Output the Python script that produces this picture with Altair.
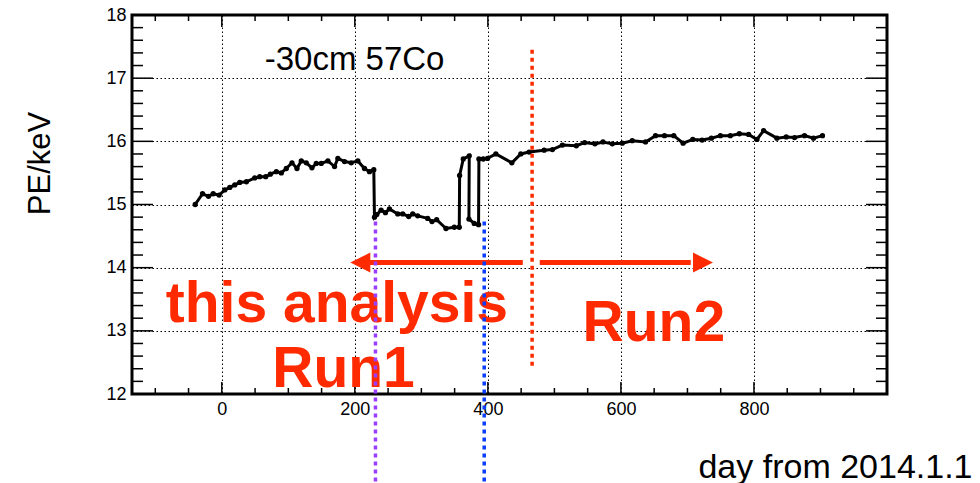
import altair as alt
import pandas as pd

# ---------------- data ----------------
days = [-40, -29, -20, -13, -4, 4.5, 12, 19.5, 27, 37, 49.5, 57, 66, 73, 82, 89.5,
        97, 105.5, 113, 119.5, 127, 135.5, 142, 149.5, 159.5, 169.5, 174.5, 184.5,
        194.5, 204.5, 214.5, 222, 228.5, 229.5, 233, 239.5, 246, 252, 264.5, 272,
        281, 287, 294.5, 309.5, 316, 323, 337, 349.5, 357, 357.5, 363, 372, 371.5,
        379.5, 386, 386.5, 393, 399.5, 412, 436, 449.5, 462, 484.5, 497, 512, 533,
        545.5, 561, 573, 587, 602, 617, 637, 652, 665.5, 679.5, 693.5, 708, 722,
        736, 749.5, 764.5, 778, 792, 804.5, 814.5, 834.5, 848.5, 861, 876, 889.5, 903]
pe = [15.00, 15.17, 15.13, 15.17, 15.15, 15.23, 15.27, 15.31, 15.35, 15.36, 15.42,
      15.44, 15.44, 15.48, 15.52, 15.50, 15.57, 15.66, 15.57, 15.69, 15.66, 15.58,
      15.65, 15.65, 15.69, 15.60, 15.73, 15.68, 15.66, 15.69, 15.57, 15.52, 15.55,
      14.80, 14.84, 14.91, 14.87, 14.93, 14.85, 14.85, 14.81, 14.85, 14.82, 14.78,
      14.73, 14.76, 14.62, 14.64, 14.64, 15.46, 15.72, 15.77, 14.77, 14.70, 14.68,
      15.72, 15.72, 15.73, 15.80, 15.66, 15.80, 15.83, 15.86, 15.87, 15.94, 15.93,
      15.98, 15.96, 15.99, 15.96, 15.97, 16.01, 15.99, 16.09, 16.09, 16.09, 15.97,
      16.03, 16.02, 16.05, 16.09, 16.09, 16.12, 16.11, 16.03, 16.17, 16.05, 16.07,
      16.06, 16.09, 16.05, 16.09]

x_major = [0, 200, 400, 600, 800]
x_minor = [-100, -50, 50, 100, 150, 250, 300, 350, 450, 500, 550, 650, 700, 750,
           850, 900, 950]
y_major = [12, 13, 14, 15, 16, 17, 18]
y_minor = [12.2, 12.4, 12.6, 12.8, 13.2, 13.4, 13.6, 13.8, 14.2, 14.4, 14.6, 14.8,
           15.2, 15.4, 15.6, 15.8, 16.2, 16.4, 16.6, 16.8, 17.2, 17.4, 17.6, 17.8]

# vertical dotted markers (day, top, bottom)
mark_names = ["run1_start", "run1_end", "run_split"]
mark_days = [231, 394.5, 466.5]
mark_top = [14.73, 14.73, 17.45]
mark_bottom = [10.6, 10.6, 12.41]

# arrows (shaft start/end, head centre)
arrow_y = 14.08
arrow_from = [215, 478]
arrow_to = [452.5, 705]
head_day = [208.2, 723.4]

label_text = ["this analysis", "Run1", "Run2"]
label_day = [173, 183, 649.5]
label_pe = [13.14, 12.11, 12.84]

source_text = ["-30cm 57Co"]
source_day = [64.5]
source_pe = [17.13]

XMIN, XMAX = -135, 1000
YMIN, YMAX = 12, 18
W, H = 755, 379
FONT = "Liberation Sans"
RED = "#ff2a00"

xs = alt.Scale(domain=[XMIN, XMAX], nice=False, zero=False)
ys = alt.Scale(domain=[YMIN, YMAX], nice=False, zero=False)

px_per_day = W / (XMAX - XMIN)
px_per_pe = H / (YMAX - YMIN)

df = pd.DataFrame({"day": days, "pe": pe, "order": range(len(days))})

xaxis = alt.Axis(values=x_major, format="d", grid=True, gridDash=[1.5, 2.5],
                 gridColor="black", gridWidth=1, gridOpacity=1, ticks=False, tickSize=0,
                 domain=False, labelFont=FONT, labelFontSize=18, labelColor="black",
                 labelPadding=6, title="day from 2014.1.1", titleFont=FONT,
                 titleFontSize=34, titleFontWeight="normal", titleColor="black",
                 titleAlign="right", titleAnchor="end", titleX=840, titleY=83,
                 titleBaseline="alphabetic")
yaxis = alt.Axis(values=y_major, format="d", grid=True, gridDash=[1.5, 2.5],
                 gridColor="black", gridWidth=1, gridOpacity=1, ticks=False, tickSize=0,
                 domain=False, labelFont=FONT, labelFontSize=18, labelColor="black",
                 labelPadding=6, title="PE/keV", titleFont=FONT, titleFontSize=31,
                 titleFontWeight="normal", titleColor="black", titleAngle=270,
                 titleAlign="center", titleBaseline="middle", titleX=-92, titleY=148)

line = alt.Chart(df).mark_line(color="black", strokeWidth=3).encode(
    x=alt.X("day:Q", scale=xs, axis=xaxis),
    y=alt.Y("pe:Q", scale=ys, axis=yaxis),
    order="order:Q",
)
pts = alt.Chart(df).mark_circle(color="black", size=28, opacity=1).encode(
    x=alt.X("day:Q", scale=xs), y=alt.Y("pe:Q", scale=ys))

# frame ticks (inward, on all four sides)
xt_len_major = 12 / px_per_pe
xt_len_minor = 6 / px_per_pe
yt_len_major = 21 / px_per_day
yt_len_minor = 11 / px_per_day
rows = []
for v in x_major:
    rows.append({"x": v, "x2": v, "y": YMIN, "y2": YMIN + xt_len_major})
    rows.append({"x": v, "x2": v, "y": YMAX, "y2": YMAX - xt_len_major})
for v in x_minor:
    rows.append({"x": v, "x2": v, "y": YMIN, "y2": YMIN + xt_len_minor})
    rows.append({"x": v, "x2": v, "y": YMAX, "y2": YMAX - xt_len_minor})
for v in y_major:
    rows.append({"x": XMIN, "x2": XMIN + yt_len_major, "y": v, "y2": v})
    rows.append({"x": XMAX, "x2": XMAX - yt_len_major, "y": v, "y2": v})
for v in y_minor:
    rows.append({"x": XMIN, "x2": XMIN + yt_len_minor, "y": v, "y2": v})
    rows.append({"x": XMAX, "x2": XMAX - yt_len_minor, "y": v, "y2": v})
ticks = alt.Chart(pd.DataFrame(rows)).mark_rule(color="black", strokeWidth=1.5).encode(
    x=alt.X("x:Q", scale=xs), x2="x2:Q", y=alt.Y("y:Q", scale=ys), y2="y2:Q")

vdf = pd.DataFrame({"name": mark_names, "day": mark_days, "top": mark_top,
                    "bottom": mark_bottom})
vlines = alt.Chart(vdf).mark_rule(strokeWidth=3.5, strokeDash=[4, 4], strokeCap="butt",
                                  clip=False).encode(
    x=alt.X("day:Q", scale=xs), y=alt.Y("top:Q", scale=ys), y2="bottom:Q",
    color=alt.Color("name:N", scale=alt.Scale(domain=mark_names,
                                              range=["#9a3dff", "#0a3cff", RED]),
                    legend=None))

adf = pd.DataFrame({"a": arrow_from, "b": arrow_to, "y": [arrow_y] * 2})
shafts = alt.Chart(adf).mark_rule(color=RED, strokeWidth=5).encode(
    x=alt.X("a:Q", scale=xs), x2="b:Q", y=alt.Y("y:Q", scale=ys))
hdf = pd.DataFrame({"day": head_day, "y": [arrow_y] * 2,
                    "shape": ["M 1 -1 L -1 0 L 1 1 Z", "M -1 -1 L 1 0 L -1 1 Z"]})
heads = alt.Chart(hdf).mark_point(filled=True, color=RED, size=400, opacity=1,
                                  strokeWidth=0).encode(
    x=alt.X("day:Q", scale=xs), y=alt.Y("y:Q", scale=ys),
    shape=alt.Shape("shape:N", scale=None))

ldf = pd.DataFrame({"t": label_text, "day": label_day, "pe": label_pe})
labels = alt.Chart(ldf).mark_text(font=FONT, fontSize=57, fontWeight="bold", color=RED,
                                  align="center", baseline="alphabetic").encode(
    x=alt.X("day:Q", scale=xs), y=alt.Y("pe:Q", scale=ys), text="t:N")

sdf = pd.DataFrame({"t": source_text, "day": source_day, "pe": source_pe})
src = alt.Chart(sdf).mark_text(font=FONT, fontSize=33, color="black", align="left",
                               baseline="alphabetic").encode(
    x=alt.X("day:Q", scale=xs), y=alt.Y("pe:Q", scale=ys), text="t:N")

chart = alt.layer(line, pts, ticks, shafts, heads, labels, src, vlines).properties(
    width=W, height=H,
    autosize=alt.AutoSizeParams(type="none"),
    padding={"left": 132, "top": 15, "right": 93, "bottom": 89},
    background="white",
).configure_view(stroke="black", strokeWidth=3)

chart.save("out.html", embed_options={"renderer": "svg", "actions": False})
